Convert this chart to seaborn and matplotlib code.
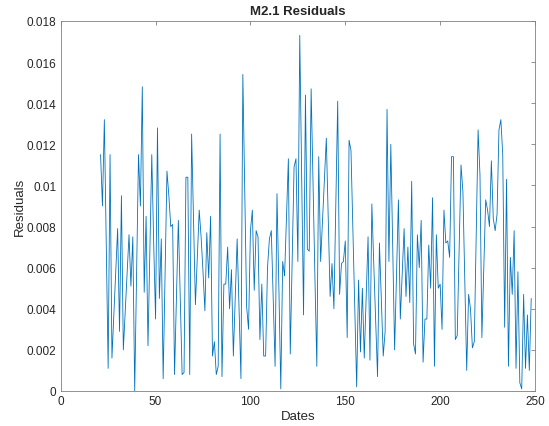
import numpy as np
import pandas as pd
import matplotlib
matplotlib.use("Agg")
import matplotlib.pyplot as plt
from matplotlib.ticker import FuncFormatter
import seaborn as sns

# Residuals of model M2.1, one value per date index
dates = list(range(21, 249))
residuals = [
    0.0115, 0.0090, 0.0132, 0.0072, 0.0011, 0.0115, 0.0016, 0.0037, 0.0058, 0.0079,  # 21-30
    0.0029, 0.0095, 0.0020, 0.0039, 0.0057, 0.0076, 0.0051, 0.0075, 0.0000, 0.0057,  # 31-40
    0.0115, 0.0090, 0.0148, 0.0048, 0.0085, 0.0022, 0.0068, 0.0115, 0.0072, 0.0035,  # 41-50
    0.0128, 0.0045, 0.0074, 0.0006, 0.0056, 0.0107, 0.0095, 0.0080, 0.0081, 0.0008,  # 51-60
    0.0045, 0.0083, 0.0045, 0.0008, 0.0009, 0.0104, 0.0104, 0.0008, 0.0125, 0.0084,  # 61-70
    0.0042, 0.0065, 0.0088, 0.0075, 0.0058, 0.0039, 0.0077, 0.0055, 0.0085, 0.0017,  # 71-80
    0.0024, 0.0008, 0.0012, 0.0125, 0.0007, 0.0052, 0.0052, 0.0070, 0.0040, 0.0059,  # 81-90
    0.0017, 0.0046, 0.0074, 0.0040, 0.0006, 0.0154, 0.0097, 0.0041, 0.0030, 0.0078,  # 91-100
    0.0088, 0.0049, 0.0078, 0.0075, 0.0025, 0.0052, 0.0017, 0.0017, 0.0060, 0.0074,  # 101-110
    0.0078, 0.0045, 0.0012, 0.0096, 0.0050, 0.0001, 0.0063, 0.0056, 0.0085, 0.0113,  # 111-120
    0.0018, 0.0063, 0.0109, 0.0113, 0.0063, 0.0173, 0.0105, 0.0037, 0.0144, 0.0069,  # 121-130
    0.0068, 0.0147, 0.0101, 0.0055, 0.0012, 0.0114, 0.0063, 0.0083, 0.0103, 0.0123,  # 131-140
    0.0085, 0.0046, 0.0062, 0.0040, 0.0090, 0.0141, 0.0047, 0.0062, 0.0063, 0.0073,  # 141-150
    0.0026, 0.0122, 0.0117, 0.0078, 0.0040, 0.0002, 0.0054, 0.0019, 0.0050, 0.0016,  # 151-160
    0.0045, 0.0075, 0.0015, 0.0091, 0.0062, 0.0035, 0.0007, 0.0072, 0.0045, 0.0017,  # 161-170
    0.0029, 0.0137, 0.0063, 0.0120, 0.0070, 0.0020, 0.0056, 0.0093, 0.0035, 0.0057,  # 171-180
    0.0079, 0.0046, 0.0070, 0.0043, 0.0102, 0.0023, 0.0018, 0.0076, 0.0060, 0.0083,  # 181-190
    0.0014, 0.0035, 0.0035, 0.0071, 0.0050, 0.0094, 0.0012, 0.0076, 0.0050, 0.0052,  # 191-200
    0.0030, 0.0088, 0.0072, 0.0073, 0.0065, 0.0114, 0.0114, 0.0025, 0.0027, 0.0068,  # 201-210
    0.0110, 0.0097, 0.0053, 0.0010, 0.0047, 0.0040, 0.0021, 0.0024, 0.0075, 0.0127,  # 211-220
    0.0105, 0.0026, 0.0060, 0.0093, 0.0088, 0.0080, 0.0112, 0.0084, 0.0078, 0.0086,  # 221-230
    0.0127, 0.0132, 0.0115, 0.0031, 0.0103, 0.0012, 0.0065, 0.0047, 0.0078, 0.0011,  # 231-240
    0.0058, 0.0004, 0.0001, 0.0047, 0.0011, 0.0037, 0.0010, 0.0045,                  # 241-248
]

x_ticks = [0, 50, 100, 150, 200, 250]
y_ticks = [0, 0.002, 0.004, 0.006, 0.008, 0.010, 0.012, 0.014, 0.016, 0.018]

df = pd.DataFrame({"Dates": dates, "Residuals": residuals})

sns.set_style("white")
plt.rcParams["font.family"] = ["Liberation Sans", "DejaVu Sans"]

fig = plt.figure(figsize=(5.49, 4.27), dpi=100)
ax = fig.add_axes([0.1106, 0.082, 0.8639, 0.8665])

sns.lineplot(data=df, x="Dates", y="Residuals", ax=ax,
             color="#0072BD", linewidth=0.6)

ax.set_xlim(0, 250)
ax.set_ylim(0, 0.018)
ax.set_xticks(x_ticks)
ax.set_yticks(y_ticks)
ax.yaxis.set_major_formatter(FuncFormatter(lambda v, _: f"{v:g}"))

axis_grey = "#808080"
for side in ["left", "right", "top", "bottom"]:
    ax.spines[side].set_visible(True)
    ax.spines[side].set_color(axis_grey)
    ax.spines[side].set_linewidth(0.6)

ax.tick_params(axis="both", direction="in", length=3, width=0.6,
               color=axis_grey, labelsize=8.5, labelcolor="#262626",
               top=True, right=True, pad=3)

ax.set_xlabel("Dates", fontsize=9.5, color="#262626", labelpad=2)
ax.set_ylabel("Residuals", fontsize=9.5, color="#262626", labelpad=1)
ax.set_title("M2.1 Residuals", fontsize=9.5, fontweight="bold", pad=5)

fig.savefig("out.png", dpi=100)
